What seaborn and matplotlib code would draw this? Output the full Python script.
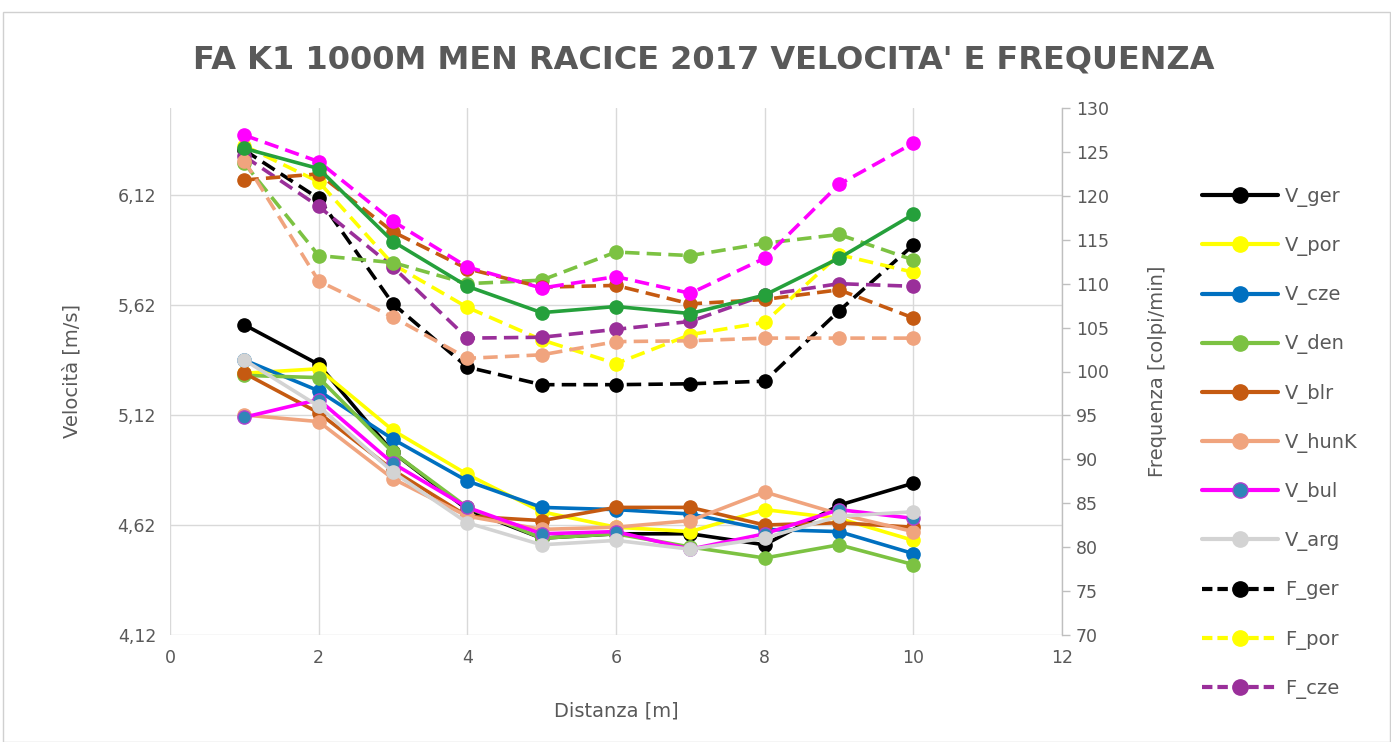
import matplotlib
matplotlib.use("Agg")
import matplotlib.pyplot as plt
import seaborn as sns
import pandas as pd
from matplotlib.lines import Line2D
from matplotlib.patches import Rectangle

# ---------------- data ----------------
dist = [1, 2, 3, 4, 5, 6, 7, 8, 9, 10]

V_ger  = [5.53, 5.35, 4.95, 4.69, 4.56, 4.58, 4.58, 4.53, 4.71, 4.81]
V_por  = [5.31, 5.33, 5.05, 4.85, 4.68, 4.61, 4.59, 4.69, 4.65, 4.55]
V_cze  = [5.37, 5.23, 5.01, 4.82, 4.70, 4.69, 4.67, 4.60, 4.59, 4.49]
V_den  = [5.30, 5.29, 4.95, 4.70, 4.56, 4.58, 4.52, 4.47, 4.53, 4.44]
V_blr  = [5.31, 5.13, 4.87, 4.66, 4.64, 4.70, 4.70, 4.62, 4.63, 4.61]
V_hunK = [5.12, 5.09, 4.83, 4.66, 4.60, 4.61, 4.64, 4.77, 4.67, 4.59]
V_bul  = [5.11, 5.19, 4.90, 4.70, 4.58, 4.59, 4.51, 4.58, 4.69, 4.65]
V_arg  = [5.37, 5.16, 4.86, 4.63, 4.53, 4.55, 4.51, 4.56, 4.66, 4.68]

F_ger  = [125.2, 119.7, 107.7, 100.5, 98.5, 98.5, 98.6, 98.9, 106.9, 114.4]
F_por  = [125.7, 121.6, 112.2, 107.3, 103.6, 100.9, 104.2, 105.6, 113.3, 111.3]
F_cze  = [124.5, 118.8, 111.9, 103.8, 103.9, 104.8, 105.7, 108.7, 110.0, 109.7]
F_den  = [123.7, 113.2, 112.4, 110.0, 110.4, 113.6, 113.2, 114.6, 115.6, 112.7]
F_blr  = [121.8, 122.5, 115.9, 111.7, 109.6, 109.8, 107.7, 108.2, 109.3, 106.1]
F_hunK = [124.0, 110.3, 106.2, 101.5, 101.9, 103.4, 103.5, 103.8, 103.8, 103.8]
F_bul  = [126.9, 123.9, 117.1, 111.9, 109.5, 110.8, 108.9, 112.9, 121.3, 126.0]
F_arg  = [125.4, 123.1, 114.8, 109.7, 106.7, 107.4, 106.6, 108.7, 112.9, 117.9]

v_ticks = [4.12, 4.62, 5.12, 5.62, 6.12]
v_tick_labels = ["4,12", "4,62", "5,12", "5,62", "6,12"]
f_ticks = [70, 75, 80, 85, 90, 95, 100, 105, 110, 115, 120, 125, 130]
x_ticks = [0, 2, 4, 6, 8, 10, 12]

title = "FA K1 1000M MEN RACICE 2017 VELOCITA' E FREQUENZA"

# ---------------- styles ----------------
C = {
    "ger": "#000000", "por": "#FFFF00", "cze": "#0070C0", "den": "#7CC242",
    "blr": "#C55A11", "hunK": "#F0A47E", "bul": "#FF00FF", "arg": "#D3D3D3",
    "Fcze": "#9A2F9A", "Farg": "#25A03B",
}
TXT = "#595959"
GRID = "#D9D9D9"
DASH = (4, 2)

v_series = [
    ("V_ger", V_ger, C["ger"], C["ger"], C["ger"]),
    ("V_por", V_por, C["por"], C["por"], C["por"]),
    ("V_cze", V_cze, C["cze"], C["cze"], C["cze"]),
    ("V_den", V_den, C["den"], C["den"], C["den"]),
    ("V_blr", V_blr, C["blr"], C["blr"], C["blr"]),
    ("V_hunK", V_hunK, C["hunK"], C["hunK"], C["hunK"]),
    ("V_bul", V_bul, C["bul"], "#2E86B8", "#B040D0"),
    ("V_arg", V_arg, C["arg"], C["arg"], C["arg"]),
]
f_series = [
    ("F_ger", F_ger, C["ger"], True),
    ("F_por", F_por, C["por"], True),
    ("F_cze", F_cze, C["Fcze"], True),
    ("F_den", F_den, C["den"], True),
    ("F_blr", F_blr, C["blr"], True),
    ("F_hunK", F_hunK, C["hunK"], True),
    ("F_bul", F_bul, C["bul"], True),
    ("F_arg", F_arg, C["Farg"], False),
]

sns.set_theme(style="white")
plt.rcParams["font.family"] = ["DejaVu Sans"]

fig = plt.figure(figsize=(13.91, 7.42), dpi=100)
fig.patch.set_facecolor("white")
fig.patches.append(Rectangle((3 / 1391, 0), 1 - 3 / 1391 - 0.001, 1 - 12 / 742,
                             transform=fig.transFigure, fill=False,
                             edgecolor="#D0D0D0", linewidth=1.0, zorder=0))

L, R, T, B = 170 / 1391, 1062 / 1391, 1 - 108 / 742, 1 - 635 / 742
ax = fig.add_axes([L, B, R - L, T - B])
ax2 = ax.twinx()

LW = 2.6
MS = 9.5

for name, vals, col, mfc, mec in v_series:
    df = pd.DataFrame({"x": dist, "y": vals})
    sns.lineplot(data=df, x="x", y="y", ax=ax, color=col, linewidth=LW,
                 marker="o", markersize=MS, markerfacecolor=mfc,
                 markeredgecolor=mec, markeredgewidth=1.0, legend=False)

for name, vals, col, dashed in f_series:
    df = pd.DataFrame({"x": dist, "y": vals})
    sns.lineplot(data=df, x="x", y="y", ax=ax2, color=col, linewidth=LW,
                 marker="o", markersize=MS, markerfacecolor=col,
                 markeredgecolor=col, markeredgewidth=1.0, legend=False)
    if dashed:
        ax2.lines[-1].set_dashes(DASH)

# axes limits and ticks
ax.set_xlim(0, 12)
ax.set_ylim(4.12, 4.12 + 527 / 220)
ax2.set_ylim(70, 130)
ax.set_xticks(x_ticks)
ax.set_xticklabels([str(t) for t in x_ticks])
ax.set_yticks(v_ticks)
ax.set_yticklabels(v_tick_labels)
ax2.set_yticks(f_ticks)
ax2.set_yticklabels([str(t) for t in f_ticks])

ax.grid(True, color=GRID, linewidth=1.0)
ax.set_axisbelow(True)
for s in ["top", "left", "bottom"]:
    ax.spines[s].set_visible(False)
    ax2.spines[s].set_visible(False)
ax.spines["right"].set_visible(False)
ax2.spines["right"].set_visible(True)
ax2.spines["right"].set_color("#BFBFBF")
ax2.spines["right"].set_linewidth(1.0)

ax.tick_params(axis="both", length=0, labelsize=12.5, labelcolor=TXT, pad=10)
ax2.tick_params(axis="y", length=6, width=1, color="#BFBFBF",
                labelsize=12.5, labelcolor=TXT, pad=4, direction="out")

ax.set_xlabel("Distanza [m]", fontsize=14, color=TXT, labelpad=25)
ax.set_ylabel("Velocità [m/s]", fontsize=14, color=TXT, labelpad=26)
ax2.set_ylabel("Frequenza [colpi/min]", fontsize=14, color=TXT, labelpad=28)

fig.text(704 / 1391, 1 - 60 / 742, title, ha="center", va="center",
         fontsize=23, fontweight="bold", color=TXT)

# legend (only first 11 entries visible, as in reference)
handles = []
labels = []
for name, vals, col, mfc, mec in v_series:
    handles.append(Line2D([], [], color=col, linewidth=3, marker="o",
                          markersize=11, markerfacecolor=mfc, markeredgecolor=mec))
    labels.append(name)
for name, vals, col, dashed in f_series[:3]:
    h = Line2D([], [], color=col, linewidth=3, marker="o",
               markersize=11, markerfacecolor=col, markeredgecolor=col)
    h.set_dashes((2.5, 1.2))
    handles.append(h)
    labels.append(name)

leg = fig.legend(handles, labels, loc="upper left",
                 bbox_to_anchor=(1202 / 1391, 1 - 187 / 742),
                 frameon=False, fontsize=14, labelcolor=TXT,
                 handlelength=3.9, handletextpad=0.35, labelspacing=1.5,
                 borderaxespad=0, borderpad=0)

fig.savefig("out.png", dpi=100, facecolor="white")
